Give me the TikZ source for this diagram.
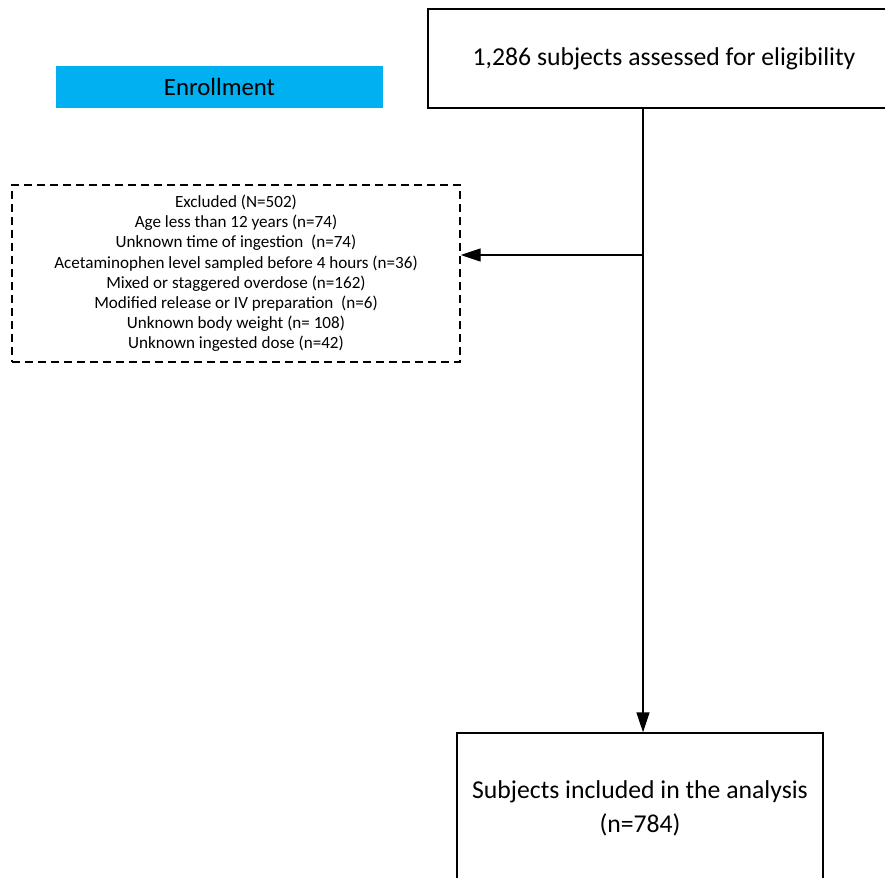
\documentclass[tikz,border=0pt]{standalone}
\usepackage{fontspec}
\setmainfont{Carlito}
\usetikzlibrary{arrows.meta}
\definecolor{enrollblue}{HTML}{00B0F0}
\tikzset{
  boxsolid/.style={draw=black, line width=1.4pt, rectangle, inner sep=0pt, align=center},
  boxdash/.style={draw=black, line width=1.4pt, rectangle, inner sep=0pt, align=center, dash pattern=on 8pt off 5pt},
  conn/.style={line width=1.4pt, -{Triangle[length=20pt,width=13pt]}},
  bigtext/.style={font=\fontsize{25.7}{34}\selectfont},
  smalltext/.style={font=\fontsize{17.1}{20.2}\selectfont}
}
\begin{document}
\begin{tikzpicture}[x=1pt,y=-1pt]
\useasboundingbox (0,0) rectangle (885,877);
\node[fill=enrollblue, minimum width=327pt, minimum height=42pt, inner sep=0pt, font=\fontsize{24.8}{28}\selectfont] (enroll) at (219.5,87) {Enrollment};
\node[boxsolid, bigtext, minimum width=472pt, minimum height=99pt] (top) at (664,58.5) {1,286 subjects assessed for eligibility};
\node[boxdash, smalltext, minimum width=448pt, minimum height=177pt] (excl) at (236,273.5) {Excluded (N=502)\\Age less than 12 years (n=74)\\Unknown time of ingestion\ \ (n=74)\\Acetaminophen level sampled before 4 hours (n=36)\\Mixed or staggered overdose (n=162)\\Modified release or IV preparation\ \ (n=6)\\Unknown body weight (n= 108)\\Unknown ingested dose (n=42)};
\node[boxsolid, bigtext, minimum width=366pt, minimum height=151pt] (incl) at (640,808.5) {Subjects included in the analysis\\(n=784)};
\coordinate (j) at (643,255);
\draw[conn] (top.south -| j) -- (incl.north -| j);
\draw[conn] (j) -- (excl.east |- j);
\end{tikzpicture}
\end{document}
